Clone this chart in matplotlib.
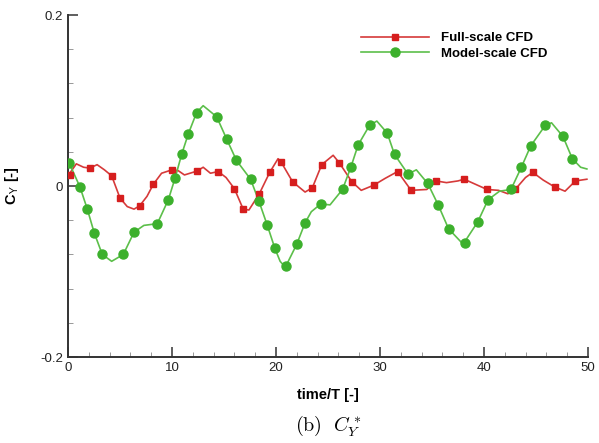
import numpy as np
import matplotlib
matplotlib.use("Agg")
import matplotlib.pyplot as plt
from matplotlib.ticker import MultipleLocator

# full-scale CFD, C_Y line
full_t = [0.0, 0.8, 1.5, 2.1, 2.8, 3.5, 4.2, 5.0, 5.7, 6.35, 6.9, 7.6, 8.2, 9.0,
          10.0, 10.6, 11.2, 12.4, 13.0, 13.7, 14.45, 15.2, 16.0, 16.85, 17.4,
          18.4, 19.4, 20.2, 20.5, 21.6, 22.8, 23.5, 24.4, 25.5, 26.1, 27.3,
          28.2, 29.4, 30.5, 31.7, 33.0, 34.5, 35.4, 36.4, 37.5, 38.1, 39.2,
          40.3, 41.4, 42.3, 43.0, 44.0, 44.7, 45.7, 46.8, 47.8, 48.8, 49.9]
full_cy = [0.012, 0.026, 0.022, 0.021, 0.025, 0.019, 0.012, -0.014, -0.024,
           -0.027, -0.023, -0.012, 0.002, 0.015, 0.019, 0.018, 0.013, 0.0175,
           0.022, 0.015, 0.017, 0.010, -0.003, -0.027, -0.028, -0.009, 0.016,
           0.032, 0.028, 0.005, -0.007, -0.002, 0.025, 0.036, 0.027, 0.005,
           -0.005, 0.001, 0.009, 0.017, -0.005, -0.004, 0.006, 0.004, 0.006,
           0.008, 0.002, -0.004, -0.005, -0.009, -0.004, 0.010, 0.016, 0.007,
           -0.001, -0.006, 0.006, 0.008]
# full-scale symbols
full_mt = [0.15, 2.1, 4.2, 5.0, 6.9, 8.2, 10.0, 12.4, 14.45, 16.0, 16.85, 18.4,
           19.4, 20.5, 21.6, 23.5, 24.4, 26.1, 27.3, 29.4, 31.7, 33.0, 35.4,
           38.1, 40.3, 43.0, 44.7, 46.8, 48.8]
full_my = [0.013, 0.021, 0.012, -0.014, -0.023, 0.002, 0.019, 0.0175, 0.017,
           -0.003, -0.027, -0.009, 0.016, 0.028, 0.005, -0.002, 0.025, 0.027,
           0.005, 0.001, 0.017, -0.005, 0.006, 0.008, -0.004, -0.004, 0.016,
           -0.001, 0.006]

# model-scale CFD
model_t = [0.0, 1.15, 1.86, 2.53, 3.3, 4.2, 5.32, 6.35, 7.3, 8.59, 9.65, 10.29,
           10.93, 11.57, 12.37, 13.0, 14.3, 15.26, 16.2, 17.56, 18.37, 19.17,
           19.9, 20.4, 20.9, 22.0, 22.8, 23.4, 24.3, 25.2, 26.4, 27.2, 27.9,
           29.0, 29.7, 30.7, 31.4, 32.7, 33.5, 34.6, 35.6, 36.6, 38.0, 39.4,
           40.4, 41.5, 42.6, 43.6, 44.5, 45.9, 46.5, 47.6, 48.5, 49.3, 49.9]
model_cy = [0.030, -0.001, -0.027, -0.055, -0.080, -0.088, -0.080, -0.054,
            -0.046, -0.044, -0.016, 0.009, 0.037, 0.061, 0.086, 0.094, 0.081,
            0.055, 0.030, 0.008, -0.018, -0.046, -0.073, -0.088, -0.095,
            -0.068, -0.043, -0.030, -0.021, -0.022, -0.004, 0.022, 0.048,
            0.071, 0.076, 0.062, 0.037, 0.014, 0.019, 0.003, -0.022, -0.050,
            -0.068, -0.042, -0.016, -0.006, -0.004, 0.022, 0.047, 0.071, 0.074,
            0.058, 0.032, 0.022, 0.020]
model_mt = [0.1, 1.15, 1.86, 2.53, 3.3, 5.32, 6.35, 8.59, 9.65, 10.29, 10.93,
            11.57, 12.37, 14.3, 15.26, 16.2, 17.56, 18.37, 19.17, 19.9, 21.0,
            22.0, 22.8, 24.3, 26.4, 27.2, 27.9, 29.0, 30.7, 31.4, 32.7, 34.6,
            35.6, 36.6, 38.2, 39.4, 40.4, 42.6, 43.6, 44.5, 45.9, 47.6, 48.5]
model_my = [0.027, -0.001, -0.027, -0.055, -0.080, -0.080, -0.054, -0.044,
            -0.016, 0.009, 0.037, 0.061, 0.086, 0.081, 0.055, 0.030, 0.008,
            -0.018, -0.046, -0.073, -0.093, -0.068, -0.043, -0.021, -0.004,
            0.022, 0.048, 0.071, 0.062, 0.037, 0.014, 0.003, -0.022, -0.050,
            -0.067, -0.042, -0.016, -0.004, 0.022, 0.047, 0.071, 0.058, 0.032]

red_line = '#d63a3a'
red_mark = '#d61e1e'
green_line = '#5cbf4a'
green_mark = '#3cb02c'

plt.rcParams['font.family'] = ['Liberation Sans', 'DejaVu Sans']
plt.rcParams['mathtext.fontset'] = 'cm'

fig = plt.figure(figsize=(5.99, 4.43), dpi=100)
ax = fig.add_axes([0.1135, 0.194, 0.868, 0.772])

ax.plot(full_t, full_cy, color=red_line, lw=1.2, zorder=2)
ax.plot(full_mt, full_my, ls='none', marker='s', ms=4.5, color=red_mark, zorder=3)
ax.plot(model_t, model_cy, color=green_line, lw=1.2, zorder=2)
ax.plot(model_mt, model_my, ls='none', marker='o', ms=6.5, color=green_mark, zorder=3)

# legend handles
ax.plot([], [], color=red_line, lw=1.2, marker='s', ms=4.5, mfc=red_mark,
        mec=red_mark, label='Full-scale CFD')
ax.plot([], [], color=green_line, lw=1.2, marker='o', ms=6.5, mfc=green_mark,
        mec=green_mark, label='Model-scale CFD')
leg = ax.legend(loc='upper left', bbox_to_anchor=(0.54, 0.985), frameon=False,
                handlelength=5.2, handletextpad=0.9, labelspacing=0.25,
                markerscale=1.0, prop={'weight': 'bold', 'size': 9.5})

ax.set_xlim(0, 50)
ax.set_ylim(-0.2, 0.2)
ax.set_xticks([0, 10, 20, 30, 40, 50])
ax.set_yticks([-0.2, 0, 0.2])
ax.set_yticklabels(['-0.2', '0', '0.2'])
ax.xaxis.set_minor_locator(MultipleLocator(2))
ax.yaxis.set_minor_locator(MultipleLocator(0.04))
ax.tick_params(which='both', direction='in', labelsize=9.5, color='#333333',
               labelcolor='#222222')
ax.tick_params(which='major', length=7, width=1.1)
ax.tick_params(which='minor', length=3.5, width=0.6, color='#888888')
for side in ['top', 'right']:
    ax.spines[side].set_visible(False)
for side in ['left', 'bottom']:
    ax.spines[side].set_linewidth(1.4)
    ax.spines[side].set_color('#333333')

ax.set_xlabel('time/T [-]', fontsize=10.5, fontweight='bold', labelpad=10)
ax.set_ylabel(r'C$_\mathsf{Y}$ [-]', fontsize=10.5, fontweight='bold', labelpad=14)

fig.text(0.548, 0.012, r'$\mathrm{(b)}\ \ C_Y^*$', fontsize=14.5,
         ha='center', va='bottom')

fig.savefig('out.png', dpi=100)
